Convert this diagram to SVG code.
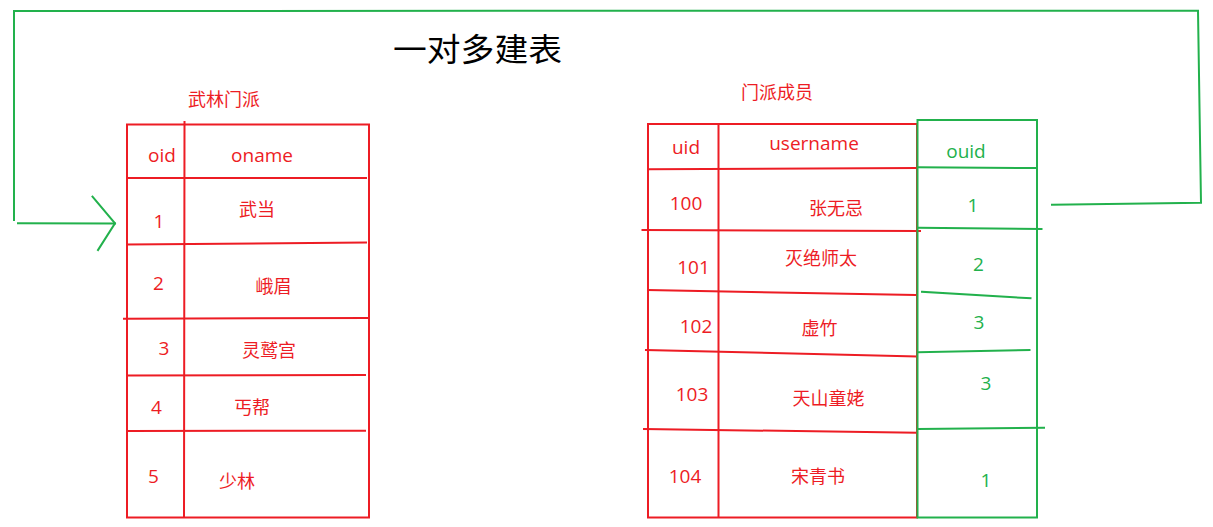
<svg xmlns="http://www.w3.org/2000/svg" width="1213" height="527" viewBox="0 0 1213 527">
<style>
.r{stroke:#ed1c24;stroke-width:2;fill:none;stroke-linecap:square}
.g{stroke:#22b14c;stroke-width:2;fill:none;stroke-linecap:square}
.tr{fill:#ed1c24;font-family:"Open Sans","Noto Sans CJK SC",sans-serif;font-size:19px;text-anchor:middle}
.tg{fill:#22b14c;font-family:"Open Sans","Noto Sans CJK SC",sans-serif;font-size:19px;text-anchor:middle}
.cr{fill:#ed1c24;font-family:"Noto Sans CJK SC",sans-serif;font-size:18px;text-anchor:middle}
.title{fill:#000;font-family:"Noto Sans CJK SC",sans-serif;font-size:32px}
</style>
<rect width="1213" height="527" fill="#fff"/>
<text class="title" x="393" y="61" textLength="169" lengthAdjust="spacingAndGlyphs">一对多建表</text>

<g id="table-wulin">
<text class="cr" x="224" y="106" font-size="17">武林门派</text>
<rect class="r" x="127" y="124.5" width="242" height="393"/>
<line class="r" x1="184.5" y1="122" x2="184" y2="517"/>
<line class="r" x1="127" y1="178" x2="366" y2="178"/>
<line class="r" x1="127" y1="244.5" x2="366" y2="242.5"/>
<line class="r" x1="124" y1="318.7" x2="368" y2="318"/>
<line class="r" x1="127" y1="375.5" x2="365" y2="375"/>
<line class="r" x1="127" y1="431" x2="365" y2="430.7"/>
<text class="tr" x="162" y="162">oid</text>
<text class="tr" x="262" y="162">oname</text>
<text class="tr" x="159" y="228">1</text>
<text class="cr" x="257" y="216">武当</text>
<text class="tr" x="158.5" y="290">2</text>
<text class="cr" x="273.5" y="293">峨眉</text>
<text class="tr" x="164" y="355">3</text>
<text class="cr" x="269" y="357">灵鹫宫</text>
<text class="tr" x="156.5" y="413.5">4</text>
<text class="cr" x="252" y="414">丐帮</text>
<text class="tr" x="153.5" y="483">5</text>
<text class="cr" x="237" y="488">少林</text>
</g>

<g id="table-members">
<text class="cr" x="777" y="99" font-size="17">门派成员</text>
<rect class="r" x="648" y="124" width="269" height="393.5"/>
<line class="r" x1="718.5" y1="124" x2="718.5" y2="517"/>
<line class="r" x1="648" y1="169.3" x2="916" y2="168"/>
<line class="r" x1="642.5" y1="230" x2="920" y2="231"/>
<line class="r" x1="648" y1="290" x2="915" y2="295"/>
<line class="r" x1="646" y1="350" x2="916.5" y2="356.5"/>
<line class="r" x1="644" y1="429" x2="916.5" y2="432.7"/>
<text class="tr" x="686" y="153.5">uid</text>
<text class="tr" x="814" y="150">username</text>
<text class="tr" x="686" y="210">100</text>
<text class="cr" x="836" y="215">张无忌</text>
<text class="tr" x="693.5" y="273.5">101</text>
<text class="cr" x="821" y="265">灭绝师太</text>
<text class="tr" x="696" y="332.5">102</text>
<text class="cr" x="819.5" y="335">虚竹</text>
<text class="tr" x="692" y="400.5">103</text>
<text class="cr" x="828.5" y="405">天山童姥</text>
<text class="tr" x="685" y="482.5">104</text>
<text class="cr" x="818" y="482.5">宋青书</text>
</g>

<g id="column-ouid">
<rect class="g" x="917.5" y="120" width="119.5" height="397.5"/>
<line class="g" x1="918" y1="167.3" x2="1035" y2="168"/>
<line class="g" x1="918" y1="227.7" x2="1041.5" y2="229"/>
<line class="g" x1="922" y1="291.7" x2="1030.5" y2="298.3"/>
<line class="g" x1="918" y1="352.3" x2="1029.5" y2="350"/>
<line class="g" x1="918" y1="429" x2="1044" y2="427.7"/>
<text class="tg" x="966" y="158">ouid</text>
<text class="tg" x="973" y="212">1</text>
<text class="tg" x="978.5" y="271">2</text>
<text class="tg" x="979" y="328.5">3</text>
<text class="tg" x="986" y="390">3</text>
<text class="tg" x="986" y="487">1</text>
</g>

<g id="connectors">
<polyline class="g" points="1052,204.7 1201,202.7 1198,10.7 14,11 14,220"/>
<line class="g" x1="18" y1="223.3" x2="115" y2="223.5"/>
<polyline class="g" points="92.5,196.7 115,223.3 98,250"/>
</g>
</svg>
